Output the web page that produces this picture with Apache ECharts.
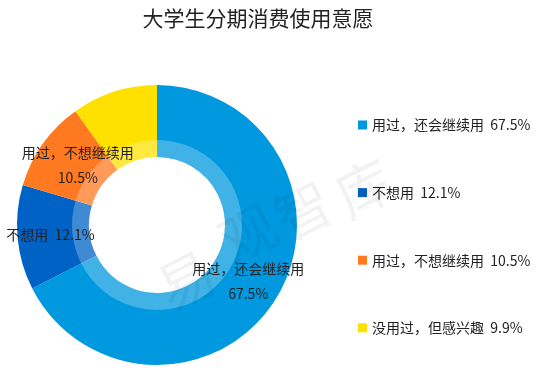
<!DOCTYPE html>
<html>
<head>
<meta charset="utf-8">
<script src="https://cdn.jsdelivr.net/npm/echarts@6/dist/echarts.min.js"></script>
<style>html,body{margin:0;padding:0;background:#fff}#c{width:543px;height:375px}</style>
</head>
<body>
<div id="c"></div>
<script>
const titleText = '大学生分期消费使用意愿';
const categories = ['用过，还会继续用', '不想用', '用过，不想继续用', '没用过，但感兴趣'];
const values = [67.5, 12.1, 10.5, 9.9];
const colors = ['#0098DE', '#0062C5', '#FF7921', '#FFE100'];
const labelFormats = ['{b}\n{c}%', '{b}  {c}%', '{b}\n{c}%', null];
const labelOffsets = [[0, 0], [0, 0], [8, 2], [0, 0]];
const watermark = ['易', '观', '智', '库'];

const FONT = '"Noto Sans CJK SC", "Microsoft YaHei", sans-serif';
const chart = echarts.init(document.getElementById('c'), null, {renderer: 'canvas'});

const data = categories.map((name, i) => ({
  name,
  value: values[i],
  itemStyle: {color: colors[i]}
}));

const labelData = categories.map((name, i) => ({
  name,
  value: values[i],
  itemStyle: {color: 'rgba(0,0,0,0)'},
  label: labelFormats[i] ? {show: true, formatter: labelFormats[i], offset: labelOffsets[i]} : {show: false}
}));

const wmPos = [[186, 280], [248, 233], [303, 210], [364, 188]];

chart.setOption({
  animation: false,
  title: {
    text: titleText,
    left: 253, top: 3, textAlign: 'center',
    textStyle: {fontFamily: FONT, fontSize: 21, fontWeight: 'normal', color: '#222'}
  },
  legend: {
    orient: 'vertical',
    left: 353, top: 113,
    itemWidth: 9, itemHeight: 9, itemGap: 53.6,
    icon: 'rect',
    textStyle: {fontFamily: FONT, fontSize: 14, color: '#222'},
    formatter: name => name + '  ' + values[categories.indexOf(name)] + '%',
    data: categories
  },
  graphic: watermark.map((ch, i) => ({
    type: 'text', z: 100, silent: true,
    x: wmPos[i][0], y: wmPos[i][1], rotation: 27 * Math.PI / 180,
    style: {text: ch, fontSize: 56, fontFamily: FONT, fill: 'rgba(0,0,0,0.05)', align: 'center', verticalAlign: 'middle'}
  })),
  series: [
    {
      type: 'pie',
      center: [157, 225],
      radius: [68, 140],
      startAngle: 90,
      clockwise: true,
      z: 2,
      label: {show: false},
      labelLine: {show: false},
      emphasis: {disabled: true},
      data
    },
    {
      type: 'pie',
      center: [157, 225],
      radius: [68, 85],
      silent: true,
      z: 3,
      label: {show: false},
      labelLine: {show: false},
      emphasis: {disabled: true},
      data: [{value: 1, name: '', itemStyle: {color: 'rgba(255,255,255,0.25)'}}]
    },
    {
      type: 'pie',
      center: [157, 225],
      radius: [68, 140],
      startAngle: 90,
      clockwise: true,
      silent: true,
      z: 4,
      avoidLabelOverlap: false,
      label: {position: 'inside', color: '#222', fontFamily: FONT, fontSize: 14, lineHeight: 25},
      labelLine: {show: false},
      emphasis: {disabled: true},
      data: labelData
    }
  ]
});
</script>
</body>
</html>
